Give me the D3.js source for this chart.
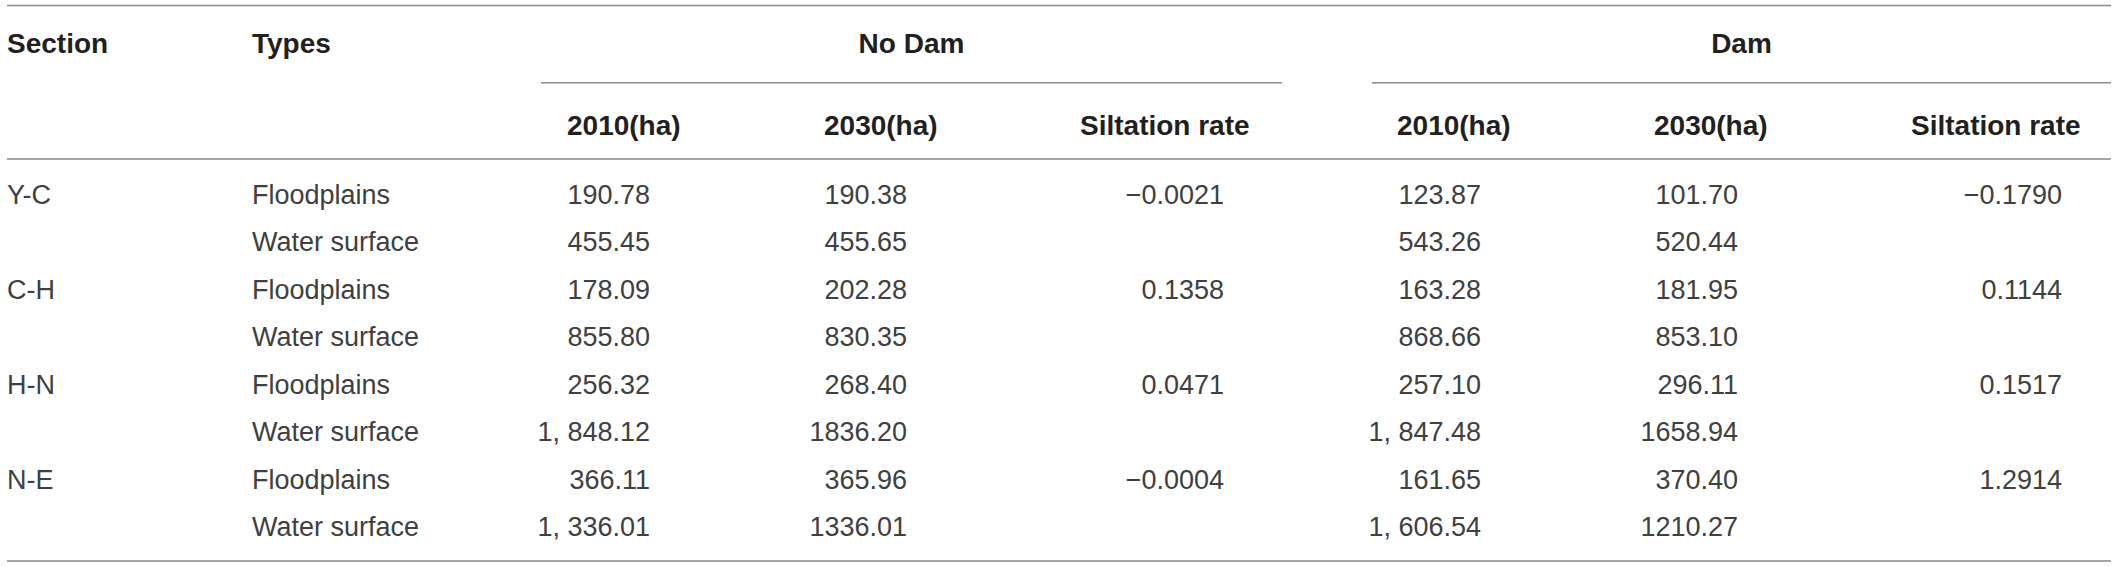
<!DOCTYPE html>
<html>
<head>
<meta charset="utf-8">
<script src="https://cdn.jsdelivr.net/npm/d3@7"></script>
<style>
  body { margin: 0; background: #fff; }
  text { font-family: "Liberation Sans", Arial, Helvetica, sans-serif; }
  .head { font-weight: bold; font-size: 28px; fill: #231f20; }
  .cell { font-size: 27px; fill: #404040; }
  .rule { stroke: #8a8a8a; stroke-width: 1.6; }
</style>
</head>
<body>
<svg></svg>
<script>
const size = {w: 2118, h: 567};
const svg = d3.select('svg')
    .attr('width', size.w)
    .attr('height', size.h);

// table content
const sections = ['Y-C', 'C-H', 'H-N', 'N-E'];
const types = ['Floodplains', 'Water surface'];
const groups = ['No Dam', 'Dam'];
const subHeads = ['2010(ha)', '2030(ha)', 'Siltation rate'];

const noDam2010 = ['190.78', '455.45', '178.09', '855.80', '256.32', '1, 848.12', '366.11', '1, 336.01'];
const noDam2030 = ['190.38', '455.65', '202.28', '830.35', '268.40', '1836.20', '365.96', '1336.01'];
const noDamRate = ['\u22120.0021', '0.1358', '0.0471', '\u22120.0004'];
const dam2010 = ['123.87', '543.26', '163.28', '868.66', '257.10', '1, 847.48', '161.65', '1, 606.54'];
const dam2030 = ['101.70', '520.44', '181.95', '853.10', '296.11', '1658.94', '370.40', '1210.27'];
const damRate = ['\u22120.1790', '0.1144', '0.1517', '1.2914'];

// one row per section/type pair
let rows = [];
sections.forEach((s, i) => {
    types.forEach((t, j) => {
        rows.push({section: j === 0 ? s : '', type: t, idx: i * 2 + j, first: j === 0});
    });
});

// vertical layout
const y = d3.scalePoint()
    .domain(d3.range(rows.length))
    .range([204, 536]);

const lineX = [7, 2111];

// column x positions (header left edge, number right edge)
const cols = [
    {key: 'n10', head: 567, num: 650, vals: noDam2010, rate: false},
    {key: 'n30', head: 824, num: 907, vals: noDam2030, rate: false},
    {key: 'nr',  head: 1080, num: 1224, vals: noDamRate, rate: true},
    {key: 'd10', head: 1397, num: 1481, vals: dam2010, rate: false},
    {key: 'd30', head: 1654, num: 1738, vals: dam2030, rate: false},
    {key: 'dr',  head: 1911, num: 2062, vals: damRate, rate: true}
];
const groupSpan = [[541, 1282], [1372, 2111]];

// rules
svg.append('line').classed('rule', true)
    .attr('x1', lineX[0]).attr('x2', lineX[1]).attr('y1', 5.5).attr('y2', 5.5);
svg.append('line').classed('rule', true)
    .attr('x1', lineX[0]).attr('x2', lineX[1]).attr('y1', 159).attr('y2', 159);
svg.append('line').classed('rule', true)
    .attr('x1', lineX[0]).attr('x2', lineX[1]).attr('y1', 561).attr('y2', 561);
svg.selectAll('line.span')
    .data(groupSpan)
    .join('line')
    .attr('class', 'rule span')
    .attr('x1', d => d[0]).attr('x2', d => d[1])
    .attr('y1', 82.7).attr('y2', 82.7);

// headers
svg.append('text').classed('head', true).attr('x', 7).attr('y', 53).text('Section');
svg.append('text').classed('head', true).attr('x', 252).attr('y', 53).text('Types');

svg.selectAll('text.group')
    .data(groups)
    .join('text')
    .attr('class', 'head group')
    .attr('text-anchor', 'middle')
    .attr('x', (d, i) => (groupSpan[i][0] + groupSpan[i][1]) / 2)
    .attr('y', 53)
    .text(d => d);

svg.selectAll('text.sub')
    .data(cols)
    .join('text')
    .attr('class', 'head sub')
    .attr('x', d => d.head)
    .attr('y', 135)
    .text((d, i) => subHeads[i % 3]);

// body
let body = svg.append('g').classed('body', true);

body.selectAll('text.section')
    .data(rows.filter(r => r.first))
    .join('text')
    .attr('class', 'cell section')
    .attr('x', 7)
    .attr('y', d => y(d.idx))
    .text(d => d.section);

body.selectAll('text.type')
    .data(rows)
    .join('text')
    .attr('class', 'cell type')
    .attr('x', 252)
    .attr('y', d => y(d.idx))
    .text(d => d.type);

cols.forEach(c => {
    let data = c.vals.map((v, i) => ({v: v, idx: c.rate ? i * 2 : i}));
    body.selectAll('text.c-' + c.key)
        .data(data)
        .join('text')
        .attr('class', 'cell c-' + c.key)
        .attr('text-anchor', 'end')
        .attr('x', c.num)
        .attr('y', d => y(d.idx))
        .text(d => d.v);
});
</script>
</body>
</html>
